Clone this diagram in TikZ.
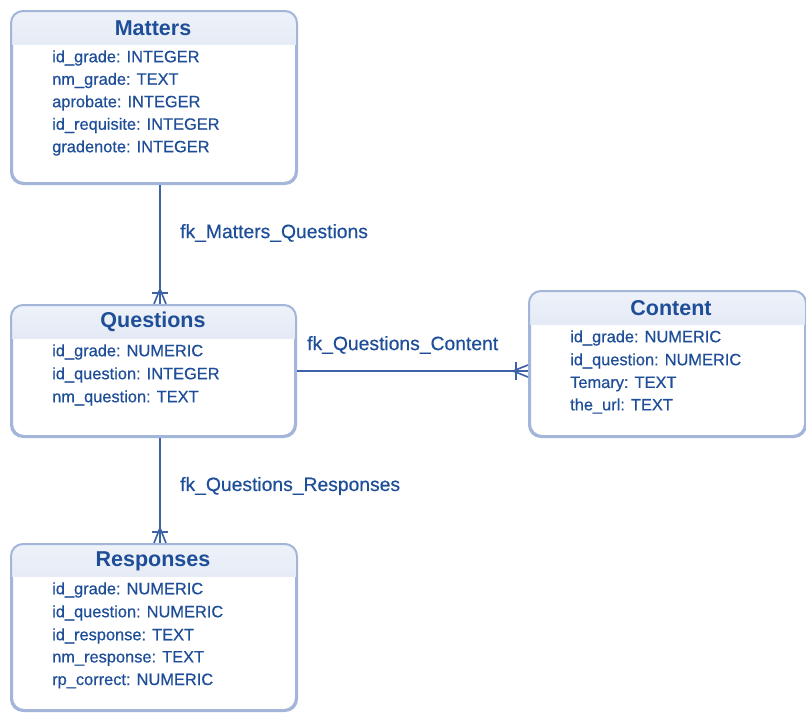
\documentclass[tikz,border=0pt]{standalone}
\usepackage{fontspec}
\setmainfont{Liberation Sans}
\newfontfamily\attrfont[FakeBold=0.5]{Liberation Sans}
\usetikzlibrary{calc}
\definecolor{bordc}{HTML}{A3B6DA}
\definecolor{txtc}{HTML}{1E4E98}
\definecolor{linec}{HTML}{3D62A6}
\definecolor{headtop}{HTML}{EEF2F9}
\definecolor{headbot}{HTML}{C3D0E8}
\tikzset{
  entity/.style={draw=bordc, line width=2pt, rounded corners=12pt, fill=white, inner sep=0pt},
  etitle/.style={text=txtc, font=\bfseries\fontsize{21.5}{24}\selectfont, inner sep=0pt},
  attr/.style={text=txtc, font=\attrfont\fontsize{16.4}{20}\selectfont, anchor=west, inner sep=0pt},
  rel/.style={draw=linec, line width=1.6pt},
  rlabel/.style={text=txtc, font=\attrfont\fontsize{19.3}{22}\selectfont, anchor=west, inner sep=0pt}
}
\newcommand{\headband}[2]{%
  \begin{scope}
    \clip (#1.north west) rectangle ($(#1.north east)+(0,#2)$);
    \shade[top color=headtop, bottom color=headbot, rounded corners=12pt]
      (#1.north west) rectangle (#1.south east);
  \end{scope}
  \draw[draw=bordc, line width=2pt, rounded corners=12pt] (#1.north west) rectangle (#1.south east);
}
\begin{document}
\begin{tikzpicture}[x=1pt,y=-1pt]
\useasboundingbox (0,0) rectangle (806,713);
% entities
\node[entity, minimum width=284, minimum height=171] (m) at (154,97.5) {};
\node[entity, minimum width=283, minimum height=130] (q) at (153.5,371) {};
\node[entity, minimum width=275, minimum height=144] (c) at (667.5,364) {};
\node[entity, minimum width=284, minimum height=165] (r) at (154,627.5) {};
\headband{m}{33}
\headband{q}{33}
\headband{c}{33}
\headband{r}{32}
% titles
\node[etitle] (mt) at (153,28) {Matters};
\node[etitle] (qt) at (153,322) {Questions};
\node[etitle] (ct) at (671,308) {Content};
\node[etitle] (rt) at (153,561) {Responses};
% attributes
\node[attr] (m1) at (52,58) {id\_grade: INTEGER};
\node[attr] (m2) at (52,80.5) {nm\_grade: TEXT};
\node[attr] (m3) at (52,103) {aprobate: INTEGER};
\node[attr] (m4) at (52,125.5) {id\_requisite: INTEGER};
\node[attr] (m5) at (52,148) {gradenote: INTEGER};
\node[attr] (q1) at (52,352) {id\_grade: NUMERIC};
\node[attr] (q2) at (52,375) {id\_question: INTEGER};
\node[attr] (q3) at (52,398) {nm\_question: TEXT};
\node[attr] (c1) at (570,338) {id\_grade: NUMERIC};
\node[attr] (c2) at (570,361) {id\_question: NUMERIC};
\node[attr] (c3) at (570,384) {Temary: TEXT};
\node[attr] (c4) at (570,406) {the\_url: TEXT};
\node[attr] (r1) at (52,590) {id\_grade: NUMERIC};
\node[attr] (r2) at (52,613) {id\_question: NUMERIC};
\node[attr] (r3) at (52,636) {id\_response: TEXT};
\node[attr] (r4) at (52,658.5) {nm\_response: TEXT};
\node[attr] (r5) at (52,681) {rp\_correct: NUMERIC};
% relations
\coordinate (mq1) at ($(m.south)+(6,1)$);
\coordinate (mq2) at ($(q.north)+(6.5,-1)$);
\draw[rel] (mq1) -- (mq2);
\draw[rel] ($(mq2)+(-6,0)$) -- ($(mq2)+(0,-15)$) -- ($(mq2)+(6,0)$);
\draw[rel] ($(mq2)+(-8,-11)$) -- ($(mq2)+(8,-11)$);
\node[rlabel] (l1) at (180,233) {fk\_Matters\_Questions};

\coordinate (qc1) at ($(q.east)+(1,0)$);
\coordinate (qc2) at ($(q.east -| c.west)+(-1,0)$);
\draw[rel] (qc1) -- (qc2);
\draw[rel] ($(qc2)+(0,-6)$) -- ($(qc2)+(-15,0)$) -- ($(qc2)+(0,6)$);
\draw[rel] ($(qc2)+(-12,-9)$) -- ($(qc2)+(-12,9)$);
\node[rlabel] (l2) at (307,345) {fk\_Questions\_Content};

\coordinate (qr1) at ($(q.south)+(6.5,1)$);
\coordinate (qr2) at ($(r.north)+(6,-1)$);
\draw[rel] (qr1) -- (qr2);
\draw[rel] ($(qr2)+(-6,0)$) -- ($(qr2)+(0,-15)$) -- ($(qr2)+(6,0)$);
\draw[rel] ($(qr2)+(-8,-11)$) -- ($(qr2)+(8,-11)$);
\node[rlabel] (l3) at (180,486) {fk\_Questions\_Responses};
\end{tikzpicture}
\end{document}
